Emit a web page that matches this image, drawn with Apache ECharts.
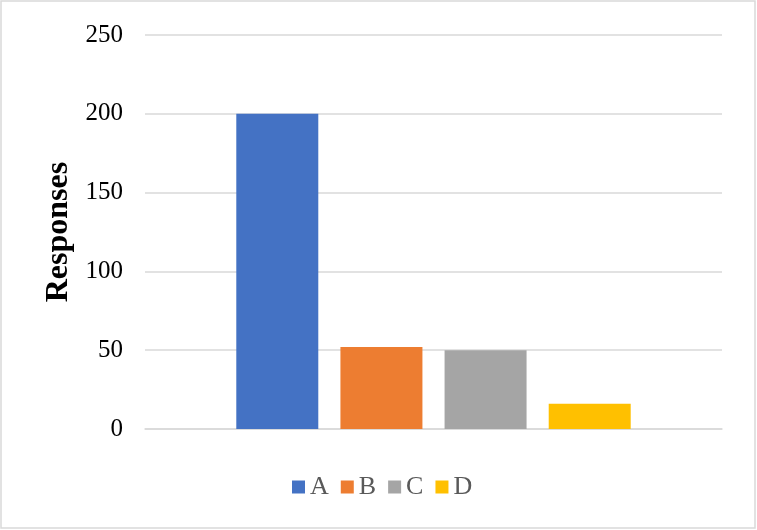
<!DOCTYPE html>
<html>
<head>
<meta charset="utf-8">
<script src="https://cdn.jsdelivr.net/npm/echarts@6/dist/echarts.min.js"></script>
<style>
html,body{margin:0;padding:0;background:#fff;}
#c{width:757px;height:530px;}
</style>
</head>
<body>
<div id="c"></div>
<script>
var seriesNames = ['A', 'B', 'C', 'D'];
var seriesValues = [200, 52, 50, 16];
var seriesColors = ['#4472C4', '#ED7D31', '#A5A5A5', '#FFC000'];
var groupLabels = [''];
var yTicks = [0, 50, 100, 150, 200, 250];
var yTitle = 'Responses';

var font = "'Liberation Serif', 'Times New Roman', serif";
var chart = echarts.init(document.getElementById('c'), null, {renderer: 'canvas'});
var series = seriesNames.map(function (n, i) {
  return {
    name: n,
    type: 'bar',
    data: [seriesValues[i]],
    barWidth: 82,
    barGap: '27%',
    itemStyle: {color: seriesColors[i]}
  };
});
chart.setOption({
  animation: false,
  backgroundColor: '#fff',
  graphic: [{
    type: 'rect',
    shape: {x: 1, y: 1, width: 754, height: 527},
    style: {fill: 'none', stroke: '#d9d9d9', lineWidth: 1.5},
    silent: true
  }],
  grid: {left: 145, right: 35, top: 35, bottom: 101, containLabel: false},
  legend: {
    data: seriesNames,
    bottom: 30,
    left: 292,
    padding: 0,
    icon: 'rect',
    itemWidth: 13,
    itemHeight: 13,
    itemGap: 12,
    textStyle: {fontFamily: font, fontSize: 26, color: '#595959'}
  },
  xAxis: {
    type: 'category',
    data: groupLabels,
    axisLine: {show: true, lineStyle: {color: '#d9d9d9', width: 1.5}},
    axisTick: {show: false},
    axisLabel: {show: false}
  },
  yAxis: {
    type: 'value',
    min: yTicks[0],
    max: yTicks[yTicks.length - 1],
    interval: 50,
    name: yTitle,
    nameLocation: 'middle',
    nameGap: 69,
    nameTextStyle: {fontFamily: font, fontSize: 32, fontWeight: 'bold', color: '#000'},
    axisLine: {show: false},
    axisTick: {show: false},
    axisLabel: {fontFamily: font, fontSize: 25, color: '#000', margin: 22},
    splitLine: {lineStyle: {color: '#d9d9d9', width: 1.5}}
  },
  series: series
});
</script>
</body>
</html>
